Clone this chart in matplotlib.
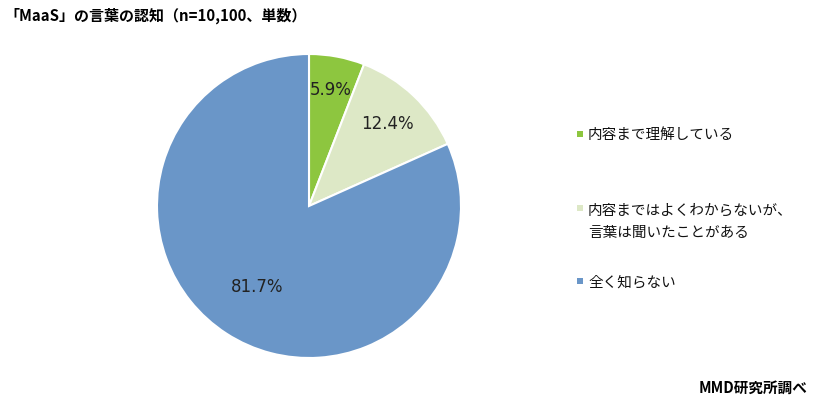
import matplotlib
matplotlib.use("Agg")
import matplotlib.pyplot as plt
from matplotlib.patches import Rectangle
import numpy as np

plt.rcParams['font.family'] = ['Noto Sans CJK JP', 'DejaVu Sans']

categories = ["内容まで理解している", "内容まではよくわからないが、\n言葉は聞いたことがある", "全く知らない"]
values = [5.9, 12.4, 81.7]
colors = ["#8DC63F", "#DDE8C6", "#6A96C8"]
title = "「MaaS」の言葉の認知（n=10,100、単数）"
source = "MMD研究所調べ"

W, H = 814, 406
fig = plt.figure(figsize=(W / 100, H / 100), dpi=100)

cx, cy, r = 309, 207, 152
ax = fig.add_axes([(cx - r) / W, 1 - (cy + r) / H, 2 * r / W, 2 * r / H])
wedges, _ = ax.pie(values, colors=colors, startangle=90, counterclock=False,
                   radius=1, wedgeprops=dict(edgecolor="white", linewidth=1.5))
ax.set_xlim(-1, 1)
ax.set_ylim(-1, 1)
ax.set_aspect('equal')
ax.axis('off')

dists = [0.78, 0.75, 0.63]
for w, v, d in zip(wedges, values, dists):
    ang = np.deg2rad((w.theta1 + w.theta2) / 2)
    ax.text(d * np.cos(ang), d * np.sin(ang), f"{v:.1f}%", ha='center', va='center',
            fontsize=12, color="#222222", family=['DejaVu Sans'])

fig.text(4 / W, 1 - 16 / H, title, fontsize=10.8, fontweight='bold', ha='left', va='center')
fig.text(808 / W, 1 - 388 / H, source, fontsize=10.5, fontweight='bold', ha='right', va='center')

# legend
leg_y = [135, 222, 283]
sq_y = [135, 209, 282]
for lbl, c, ty, sy in zip(categories, colors, leg_y, sq_y):
    fig.patches.append(Rectangle(((577) / W, 1 - (sy + 3) / H), 6 / W, 6 / H,
                                 transform=fig.transFigure, facecolor=c, edgecolor='none'))
    fig.text(588 / W, 1 - ty / H, lbl, fontsize=10.5, ha='left', va='center',
             linespacing=1.75, color="#111111")

fig.savefig("out.png", dpi=100, facecolor="white")
